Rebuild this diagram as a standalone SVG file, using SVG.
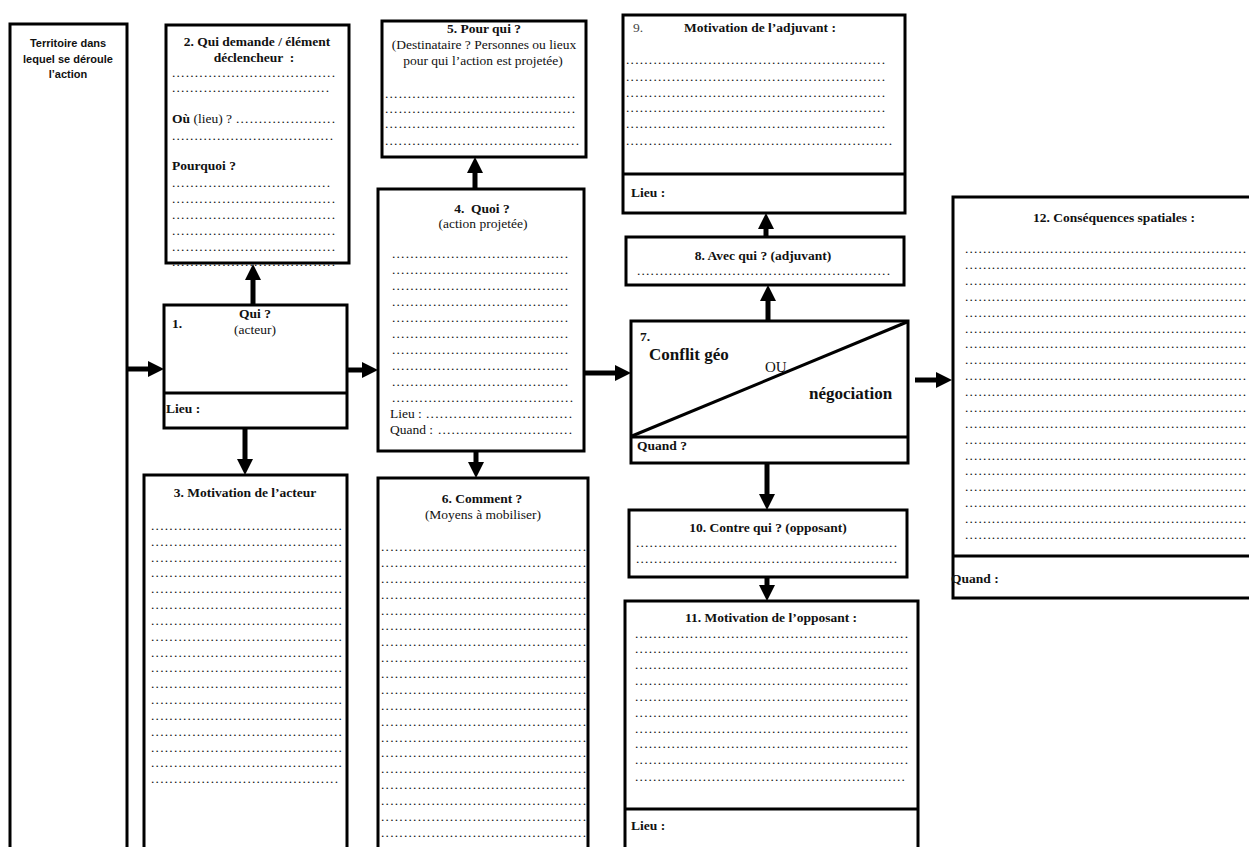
<svg xmlns="http://www.w3.org/2000/svg" width="1249" height="847" viewBox="0 0 1249 847">
<style>
.box{fill:#fff;stroke:#000;stroke-width:3}
.dv{stroke:#000;stroke-width:3;fill:none}
.t{font-family:"Liberation Serif","Times New Roman",serif;font-size:13.5px;fill:#111}
.b{font-weight:bold}
.c{text-anchor:middle}
.big{font-size:17px}
.d{font-family:"Liberation Serif","Times New Roman",serif;font-size:13.5px;fill:#111}
.s{font-family:"Liberation Sans",Arial,sans-serif;font-size:11px;font-weight:bold;fill:#111;text-anchor:middle}
.pre{white-space:pre}
.conn line{stroke:#000;stroke-width:5;marker-end:url(#ah)}
</style>
<defs>
<marker id="ah" markerUnits="userSpaceOnUse" markerWidth="17" markerHeight="16" refX="0" refY="8" orient="auto">
<path d="M0,0 L16,8 L0,16 Z" fill="#000"/>
</marker>
</defs>
<rect width="1249" height="847" fill="#fff"/>

<g id="territoire">
<rect class="box" x="10" y="24" width="117" height="840"/>
<text class="s" x="68" y="47">Territoire dans</text>
<text class="s" x="68" y="63">lequel se déroule</text>
<text class="s" x="68" y="78">l’action</text>
</g>

<g id="n2">
<rect class="box" x="166" y="25" width="183" height="238"/>
<text class="t b c" x="257" y="46">2. Qui demande / élément</text>
<text class="t b c pre" x="254" y="62">déclencheur  :</text>
<text class="d" x="172" y="77" textLength="163" lengthAdjust="spacing">....................................</text>
<text class="d" x="172" y="92" textLength="157" lengthAdjust="spacing">...................................</text>
<text class="t" x="172" y="123"><tspan class="b">Où</tspan> (lieu) ?</text>
<text class="d" x="236" y="123" textLength="99" lengthAdjust="spacing">......................</text>
<text class="d" x="172" y="140" textLength="161" lengthAdjust="spacing">....................................</text>
<text class="t b" x="172" y="170">Pourquoi ?</text>
<text class="d" x="172" y="187" textLength="158" lengthAdjust="spacing">...................................</text>
<text class="d" x="172" y="203" textLength="163" lengthAdjust="spacing">....................................</text>
<text class="d" x="172" y="219" textLength="163" lengthAdjust="spacing">....................................</text>
<text class="d" x="172" y="235" textLength="163" lengthAdjust="spacing">....................................</text>
<text class="d" x="172" y="251" textLength="163" lengthAdjust="spacing">....................................</text>
<text class="d" x="172" y="266" textLength="163" lengthAdjust="spacing">....................................</text>
</g>

<g id="n1">
<rect class="box" x="164" y="305" width="183" height="123"/>
<line class="dv" x1="164" y1="393" x2="347" y2="393"/>
<text class="t b" x="172" y="328">1.</text>
<text class="t b c" x="255" y="318">Qui ?</text>
<text class="t c" x="255" y="334">(acteur)</text>
<text class="t b" x="166" y="413">Lieu :</text>
</g>

<g id="n3">
<rect class="box" x="144" y="475" width="203" height="390"/>
<text class="t b c" x="245" y="497">3. Motivation de l’acteur</text>
<text class="d" x="151" y="530" textLength="191" lengthAdjust="spacing">..........................................</text>
<text class="d" x="151" y="546" textLength="191" lengthAdjust="spacing">..........................................</text>
<text class="d" x="151" y="562" textLength="191" lengthAdjust="spacing">..........................................</text>
<text class="d" x="151" y="577" textLength="191" lengthAdjust="spacing">..........................................</text>
<text class="d" x="151" y="593" textLength="191" lengthAdjust="spacing">..........................................</text>
<text class="d" x="151" y="609" textLength="191" lengthAdjust="spacing">..........................................</text>
<text class="d" x="151" y="625" textLength="191" lengthAdjust="spacing">..........................................</text>
<text class="d" x="151" y="641" textLength="191" lengthAdjust="spacing">..........................................</text>
<text class="d" x="151" y="657" textLength="191" lengthAdjust="spacing">..........................................</text>
<text class="d" x="151" y="672" textLength="191" lengthAdjust="spacing">..........................................</text>
<text class="d" x="151" y="688" textLength="191" lengthAdjust="spacing">..........................................</text>
<text class="d" x="151" y="704" textLength="191" lengthAdjust="spacing">..........................................</text>
<text class="d" x="151" y="720" textLength="191" lengthAdjust="spacing">..........................................</text>
<text class="d" x="151" y="736" textLength="191" lengthAdjust="spacing">..........................................</text>
<text class="d" x="151" y="752" textLength="191" lengthAdjust="spacing">..........................................</text>
<text class="d" x="151" y="767" textLength="191" lengthAdjust="spacing">..........................................</text>
<text class="d" x="151" y="783" textLength="187" lengthAdjust="spacing">.........................................</text>
</g>

<g id="n4">
<rect class="box" x="378" y="189" width="206" height="262"/>
<text class="t b c pre" x="482" y="213">4.  Quoi ?</text>
<text class="t c" x="483" y="228">(action projetée)</text>
<text class="d" x="392" y="258" textLength="176" lengthAdjust="spacing">.......................................</text>
<text class="d" x="392" y="274" textLength="176" lengthAdjust="spacing">.......................................</text>
<text class="d" x="392" y="290" textLength="176" lengthAdjust="spacing">.......................................</text>
<text class="d" x="392" y="306" textLength="176" lengthAdjust="spacing">.......................................</text>
<text class="d" x="392" y="322" textLength="176" lengthAdjust="spacing">.......................................</text>
<text class="d" x="392" y="338" textLength="176" lengthAdjust="spacing">.......................................</text>
<text class="d" x="392" y="354" textLength="176" lengthAdjust="spacing">.......................................</text>
<text class="d" x="392" y="370" textLength="176" lengthAdjust="spacing">.......................................</text>
<text class="d" x="392" y="386" textLength="176" lengthAdjust="spacing">.......................................</text>
<text class="d" x="392" y="402" textLength="181" lengthAdjust="spacing">........................................</text>
<text class="t" x="390" y="418">Lieu :</text>
<text class="d" x="426" y="418" textLength="146" lengthAdjust="spacing">................................</text>
<text class="t" x="390" y="434">Quand :</text>
<text class="d" x="438" y="434" textLength="134" lengthAdjust="spacing">..............................</text>
</g>

<g id="n5">
<rect class="box" x="382" y="21" width="204" height="136"/>
<text class="t b c" x="484" y="33">5. Pour qui ?</text>
<text class="t c" x="484" y="49">(Destinataire ? Personnes ou lieux</text>
<text class="t c" x="483" y="65">pour qui l’action est projetée)</text>
<text class="d" x="385" y="98" textLength="190" lengthAdjust="spacing">..........................................</text>
<text class="d" x="385" y="113" textLength="190" lengthAdjust="spacing">..........................................</text>
<text class="d" x="385" y="128" textLength="190" lengthAdjust="spacing">..........................................</text>
<text class="d" x="385" y="145" textLength="194" lengthAdjust="spacing">...........................................</text>
</g>

<g id="n6">
<rect class="box" x="378" y="478" width="210" height="387"/>
<text class="t b c" x="482" y="503">6. Comment ?</text>
<text class="t c" x="483" y="519">(Moyens à mobiliser)</text>
<text class="d" x="381" y="551" textLength="205" lengthAdjust="spacing">.............................................</text>
<text class="d" x="381" y="567" textLength="205" lengthAdjust="spacing">.............................................</text>
<text class="d" x="381" y="583" textLength="205" lengthAdjust="spacing">.............................................</text>
<text class="d" x="381" y="599" textLength="205" lengthAdjust="spacing">.............................................</text>
<text class="d" x="381" y="615" textLength="205" lengthAdjust="spacing">.............................................</text>
<text class="d" x="381" y="630" textLength="205" lengthAdjust="spacing">.............................................</text>
<text class="d" x="381" y="646" textLength="205" lengthAdjust="spacing">.............................................</text>
<text class="d" x="381" y="662" textLength="205" lengthAdjust="spacing">.............................................</text>
<text class="d" x="381" y="678" textLength="205" lengthAdjust="spacing">.............................................</text>
<text class="d" x="381" y="694" textLength="205" lengthAdjust="spacing">.............................................</text>
<text class="d" x="381" y="710" textLength="205" lengthAdjust="spacing">.............................................</text>
<text class="d" x="381" y="726" textLength="205" lengthAdjust="spacing">.............................................</text>
<text class="d" x="381" y="742" textLength="205" lengthAdjust="spacing">.............................................</text>
<text class="d" x="381" y="757" textLength="205" lengthAdjust="spacing">.............................................</text>
<text class="d" x="381" y="773" textLength="205" lengthAdjust="spacing">.............................................</text>
<text class="d" x="381" y="789" textLength="205" lengthAdjust="spacing">.............................................</text>
<text class="d" x="381" y="805" textLength="205" lengthAdjust="spacing">.............................................</text>
<text class="d" x="381" y="821" textLength="205" lengthAdjust="spacing">.............................................</text>
<text class="d" x="381" y="837" textLength="205" lengthAdjust="spacing">.............................................</text>
</g>

<g id="n7">
<rect class="box" x="631" y="321" width="277" height="142"/>
<line class="dv" x1="631" y1="437" x2="908" y2="437"/>
<line class="dv" x1="632" y1="436" x2="907" y2="322"/>
<text class="t b" x="640" y="341">7.</text>
<text class="t b big" x="649" y="360">Conflit géo</text>
<text class="t" x="765" y="372" style="font-size:15px">OU</text>
<text class="t b big" x="809" y="399">négociation</text>
<text class="t b" x="637" y="450">Quand ?</text>
</g>

<g id="n8">
<rect class="box" x="626" y="237" width="278" height="48"/>
<text class="t b c" x="763" y="260">8. Avec qui ? (adjuvant)</text>
<text class="d" x="637" y="275" textLength="253" lengthAdjust="spacing">........................................................</text>
</g>

<g id="n9">
<rect class="box" x="623" y="15" width="282" height="198"/>
<line class="dv" x1="623" y1="174" x2="905" y2="174"/>
<text class="t" x="633" y="32" style="fill:#444">9.</text>
<text class="t b c" x="760" y="32">Motivation de l’adjuvant :</text>
<text class="d" x="626" y="64" textLength="259" lengthAdjust="spacing">.........................................................</text>
<text class="d" x="626" y="81" textLength="259" lengthAdjust="spacing">.........................................................</text>
<text class="d" x="626" y="97" textLength="259" lengthAdjust="spacing">.........................................................</text>
<text class="d" x="626" y="112" textLength="259" lengthAdjust="spacing">.........................................................</text>
<text class="d" x="626" y="128" textLength="259" lengthAdjust="spacing">.........................................................</text>
<text class="d" x="626" y="145" textLength="266" lengthAdjust="spacing">...........................................................</text>
<text class="t b" x="631" y="197">Lieu :</text>
</g>

<g id="n10">
<rect class="box" x="629" y="510" width="278" height="67"/>
<text class="t b c" x="768" y="532">10. Contre qui ? (opposant)</text>
<text class="d" x="636" y="547" textLength="261" lengthAdjust="spacing">..........................................................</text>
<text class="d" x="636" y="563" textLength="261" lengthAdjust="spacing">..........................................................</text>
</g>

<g id="n11">
<rect class="box" x="625" y="601" width="293" height="264"/>
<line class="dv" x1="625" y1="809" x2="918" y2="809"/>
<text class="t b c" x="771" y="622">11. Motivation de l’opposant :</text>
<text class="d" x="635" y="638" textLength="273" lengthAdjust="spacing">............................................................</text>
<text class="d" x="635" y="653" textLength="273" lengthAdjust="spacing">............................................................</text>
<text class="d" x="635" y="669" textLength="273" lengthAdjust="spacing">............................................................</text>
<text class="d" x="635" y="685" textLength="273" lengthAdjust="spacing">............................................................</text>
<text class="d" x="635" y="701" textLength="273" lengthAdjust="spacing">............................................................</text>
<text class="d" x="635" y="717" textLength="273" lengthAdjust="spacing">............................................................</text>
<text class="d" x="635" y="733" textLength="273" lengthAdjust="spacing">............................................................</text>
<text class="d" x="635" y="748" textLength="273" lengthAdjust="spacing">............................................................</text>
<text class="d" x="635" y="764" textLength="273" lengthAdjust="spacing">............................................................</text>
<text class="d" x="635" y="781" textLength="270" lengthAdjust="spacing">............................................................</text>
<text class="t b" x="631" y="830">Lieu :</text>
</g>

<g id="n12">
<rect class="box" x="953" y="197" width="320" height="401"/>
<line class="dv" x1="953" y1="556" x2="1273" y2="556"/>
<text class="t b c" x="1114" y="222">12. Conséquences spatiales :</text>
<text class="d" x="965" y="253" textLength="281" lengthAdjust="spacing">...............................................................</text>
<text class="d" x="965" y="269" textLength="281" lengthAdjust="spacing">...............................................................</text>
<text class="d" x="965" y="285" textLength="281" lengthAdjust="spacing">...............................................................</text>
<text class="d" x="965" y="301" textLength="281" lengthAdjust="spacing">...............................................................</text>
<text class="d" x="965" y="317" textLength="281" lengthAdjust="spacing">...............................................................</text>
<text class="d" x="965" y="333" textLength="281" lengthAdjust="spacing">...............................................................</text>
<text class="d" x="965" y="348" textLength="281" lengthAdjust="spacing">...............................................................</text>
<text class="d" x="965" y="364" textLength="281" lengthAdjust="spacing">...............................................................</text>
<text class="d" x="965" y="380" textLength="281" lengthAdjust="spacing">...............................................................</text>
<text class="d" x="965" y="396" textLength="281" lengthAdjust="spacing">...............................................................</text>
<text class="d" x="965" y="412" textLength="281" lengthAdjust="spacing">...............................................................</text>
<text class="d" x="965" y="428" textLength="281" lengthAdjust="spacing">...............................................................</text>
<text class="d" x="965" y="444" textLength="281" lengthAdjust="spacing">...............................................................</text>
<text class="d" x="965" y="460" textLength="281" lengthAdjust="spacing">...............................................................</text>
<text class="d" x="965" y="475" textLength="281" lengthAdjust="spacing">...............................................................</text>
<text class="d" x="965" y="491" textLength="281" lengthAdjust="spacing">...............................................................</text>
<text class="d" x="965" y="507" textLength="281" lengthAdjust="spacing">...............................................................</text>
<text class="d" x="965" y="523" textLength="281" lengthAdjust="spacing">...............................................................</text>
<text class="d" x="965" y="539" textLength="281" lengthAdjust="spacing">...............................................................</text>
<text class="t b" x="951" y="583">Quand :</text>
</g>

<g id="connectors" class="conn">
<line x1="127" y1="369" x2="148" y2="369"/>
<line x1="347" y1="370" x2="362" y2="370"/>
<line x1="253" y1="305" x2="253" y2="280"/>
<line x1="245" y1="428" x2="245" y2="459"/>
<line x1="475" y1="189" x2="475" y2="173"/>
<line x1="476" y1="451" x2="476" y2="462"/>
<line x1="584" y1="373" x2="615" y2="373"/>
<line x1="768" y1="321" x2="768" y2="301"/>
<line x1="766" y1="237" x2="766" y2="229"/>
<line x1="767" y1="463" x2="767" y2="494"/>
<line x1="767" y1="577" x2="767" y2="585"/>
<line x1="915" y1="380" x2="936" y2="380"/>
</g>
</svg>
